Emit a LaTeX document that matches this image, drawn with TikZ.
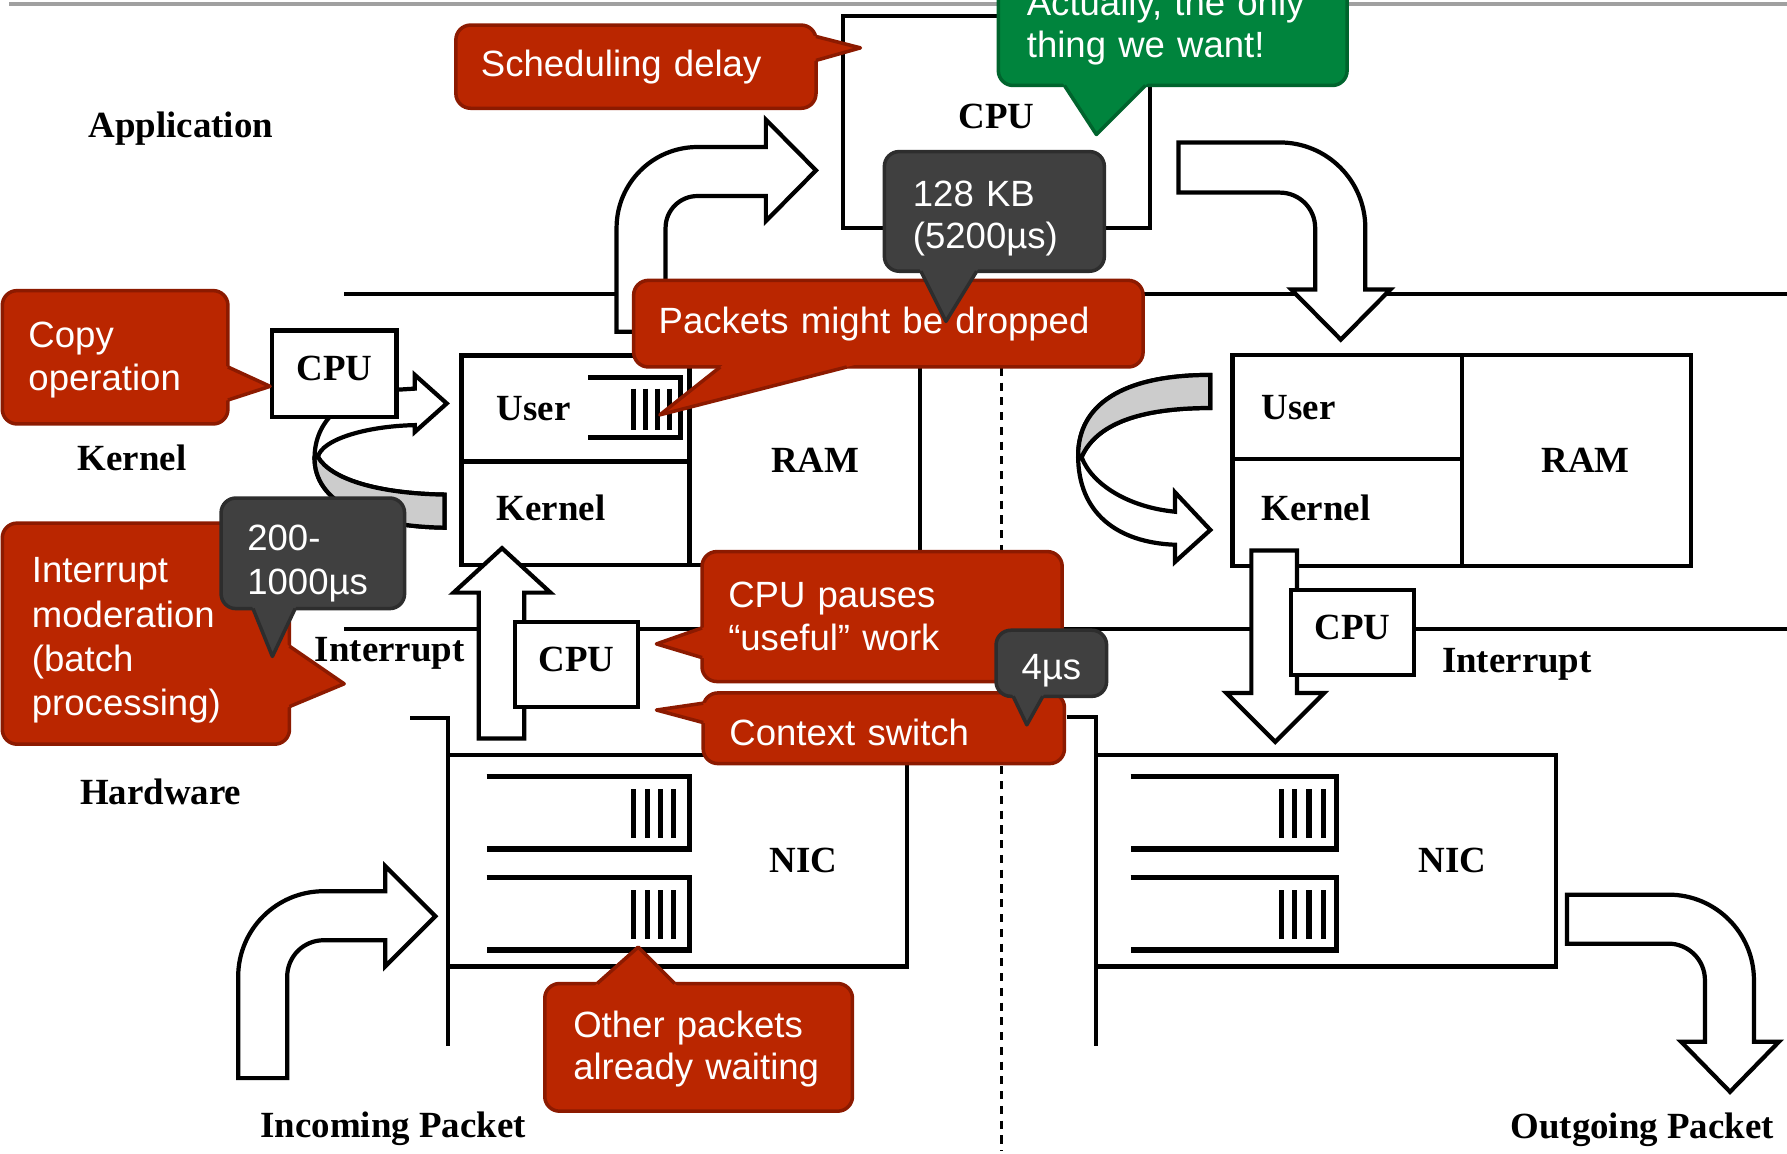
\documentclass[tikz,border=0pt]{standalone}
\usepackage{fontspec}
\setmainfont{Liberation Serif}
\setsansfont{Liberation Sans}
\usetikzlibrary{calc}

\definecolor{calred}{RGB}{186,38,0}
\definecolor{calredline}{RGB}{140,26,0}
\definecolor{calgreen}{RGB}{0,132,61}
\definecolor{calgreenline}{RGB}{0,100,45}
\definecolor{caldark}{RGB}{64,64,64}
\definecolor{caldarkline}{RGB}{45,45,45}
\definecolor{ribbon}{RGB}{204,204,204}
\definecolor{topbar}{RGB}{160,160,160}

\newlength\px
\setlength\px{0.11397mm}

\newcommand\labfont{\fontsize{10.5}{12}\selectfont\bfseries}
\newcommand\callfont{\sffamily\fontsize{10.4}{12.2}\selectfont}
% taller first line, pushes callout text down
\newcommand\firstline[1]{\rule{0pt}{#1}}

% pointer of a callout: fill, line, base, tip, base
\newcommand\callpointer[5]{%
  \fill[#1] ($(#4)!1.15!(#3)$) -- (#4) -- ($(#4)!1.15!(#5)$) -- cycle;
  \draw[#2, line width=1pt, line join=round] (#3) -- (#4) -- (#5);
}

\begin{document}
\begin{tikzpicture}[x=\px, y=-\px, line width=1.2pt,
    lab/.style = {font=\labfont},
    box/.style = {draw, fill=white, font=\labfont, inner sep=0pt,
        outer sep=0pt, anchor=north west},
    cpu/.style = {box, text depth=3pt},
    queue/.style = {line width=1.5pt},
    blockarrow/.style = {draw, fill=white},
    callout/.style = {rectangle, rounded corners=4.2pt, line width=1pt,
        text=white, font=\callfont, align=left, anchor=north west,
        inner ysep=0pt, outer sep=0pt},
    redcall/.style = {callout, fill=calred, draw=calredline},
    greencall/.style = {callout, fill=calgreen, draw=calgreenline},
    darkcall/.style = {callout, fill=caldark, draw=caldarkline}]

\useasboundingbox (0,0) rectangle (1568,1012);
\clip (0,0) rectangle (1568,1012);

% Top rule
\draw[topbar, line width=1.3pt] (8,3.5) -- (1568,3.5);

% Layer boundaries
\draw (302,258) -- (1568,258);
\draw (302,552) -- (1568,552);
\draw (360,630) -- (393,630) -- (393,918);
\draw (936,629) -- (962,629) -- (962,918);
\draw[line width=0.9pt, dash pattern=on 2.3pt off 1.9pt] (879,258) -- (879,1010);

% Application CPU
\node[cpu, minimum width=269\px, minimum height=186\px] (appcpu) at (740,14) {CPU};

% Memory, receive side
\node[box, minimum height=93\px, text width=138\px, inner xsep=31\px, align=left] (userL) at (405,312) {User};
\node[box, text depth=3pt, minimum height=91\px, text width=138\px, inner xsep=31\px, align=left] (kernelL) at (userL.south west) {Kernel};
\node[box, minimum height=184\px, text width=96\px, inner xsep=53\px, align=right] (ramL) at (userL.north east) {RAM};
\draw[queue] (516,331) -- (597,331) -- (597,384) -- (516,384);
\foreach \x in {556,566.5,577,587.5}
    \draw[queue] (\x,341) -- (\x,377);

% Memory, send side
\node[box, minimum height=91.5\px, text width=150.5\px, inner xsep=25.5\px, align=left] (userR) at (1081.5,311.5) {User};
\node[box, text depth=3pt, minimum height=93.5\px, text width=150.5\px, inner xsep=25.5\px, align=left] (kernelR) at (userR.south west) {Kernel};
\node[box, minimum height=185\px, text width=93\px, inner xsep=54\px, align=right] (ramR) at (userR.north east) {RAM};

% NICs
\node[box, minimum height=185.5\px, text width=281\px, inner xsep=61\px, align=right] (nicL) at (393,662.5) {NIC};
\node[box, minimum height=185.5\px, text width=281\px, inner xsep=61\px, align=right] (nicR) at (962,662.5) {NIC};
\foreach \y in {681.5,770} {
    \draw[queue] (427,\y) -- (605,\y) -- (605,\y+63.5) -- (427,\y+63.5);
    \foreach \x in {556,568,579.5,591}
        \draw[queue] (\x,\y+11) -- (\x,\y+54);
    \draw[queue] (992,\y) -- (1173,\y) -- (1173,\y+63.5) -- (992,\y+63.5);
    \foreach \x in {1124.5,1136,1148.5,1161}
        \draw[queue] (\x,\y+11) -- (\x,\y+54);
}

% Block arrows
\draw[blockarrow] (541,291) -- (541,200) arc[start angle=180, end angle=270, radius=71]
    -- (672,129) -- (672,105) -- (716,149.5) -- (672,194) -- (672,172) -- (612,172)
    arc[start angle=270, end angle=180, radius=28] -- (584,291) -- cycle;
\draw[blockarrow] (1034,125) -- (1123,125) arc[start angle=270, end angle=360, radius=75]
    -- (1198,254) -- (1220,254) -- (1176.5,298) -- (1133,254) -- (1154,254) -- (1154,200)
    arc[start angle=0, end angle=-90, radius=31] -- (1034,169) -- cycle;
\draw[blockarrow] (209,946) -- (209,857) arc[start angle=180, end angle=270, radius=75]
    -- (338,782) -- (338,760) -- (382,804) -- (338,848) -- (338,825) -- (284,825)
    arc[start angle=270, end angle=180, radius=32] -- (252,946) -- cycle;
\draw[blockarrow] (1375,785) -- (1464,785) arc[start angle=270, end angle=360, radius=75]
    -- (1539,914) -- (1561,914) -- (1518,958) -- (1475,914) -- (1496,914) -- (1496,860)
    arc[start angle=0, end angle=-90, radius=32] -- (1375,828) -- cycle;
\draw[blockarrow] (420,648) -- (420,520) -- (398,520) -- (440.5,481) -- (483,520)
    -- (460,520) -- (460,648) -- cycle;
\draw[blockarrow] (1098,483) -- (1138,483) -- (1138,608) -- (1162,608) -- (1119,651)
    -- (1076,608) -- (1098,608) -- cycle;

% Copy ribbons
\draw[blockarrow] (390,463) .. controls (320,462) and (276,440) .. (276,402)
    .. controls (276,370) and (300,345) .. (348,342) -- (364,341) -- (364,329)
    -- (392,354) -- (364,379) -- (364,373) .. controls (320,374) and (282,386) .. (279,401)
    .. controls (290,420) and (330,433) .. (390,434) -- cycle;
\draw[blockarrow, fill=ribbon] (279,401) .. controls (290,420) and (330,433) .. (390,434)
    -- (390,463) .. controls (320,462) and (276,440) .. (276,402) -- cycle;
\draw[blockarrow] (1062,329) .. controls (985,329) and (946,355) .. (946,400)
    .. controls (946,450) and (980,476) .. (1031,478) -- (1031,493) -- (1062,465)
    -- (1031,432) -- (1031,449) .. controls (990,445) and (958,425) .. (949,401)
    .. controls (962,372) and (1000,358) .. (1062,358) -- cycle;
\draw[blockarrow, fill=ribbon] (1062,329) .. controls (985,329) and (946,355) .. (946,400)
    -- (949,401) .. controls (962,372) and (1000,358) .. (1062,358) -- cycle;

% CPUs
\node[cpu, minimum width=109\px, minimum height=76\px] (kcpu) at (239,290) {CPU};
\node[cpu, minimum width=108\px, minimum height=75\px] (icpuL) at (452,545.5) {CPU};
\node[cpu, minimum width=107.5\px, minimum height=74\px] (icpuR) at (1133,518) {CPU};

% Layer labels
\node[lab] (application) at (158.6,112.6) {Application};
\node[lab] (kernel) at (116,402) {Kernel};
\node[lab] (hardware) at (141,694.6) {Hardware};
\node[lab] (intL) at (342,573) {Interrupt};
\node[lab] (intR) at (1331,583) {Interrupt};
\node[lab] (incoming) at (345,990) {Incoming Packet};
\node[lab] (outgoing) at (1441,991.5) {Outgoing Packet};

% Callouts
\node[redcall, text width=272\px, inner xsep=22\px, minimum height=73\px] (sched) at (400,22) {Scheduling delay};
\callpointer{calred}{calredline}{716,32}{755,42}{716,53}

\node[greencall, text width=256\px, inner xsep=25\px, minimum height=105\px,
    font=\sffamily\fontsize{10.4}{12}\selectfont] (wanted) at (876,-30) {\firstline{8.5pt}Actually, the only\\thing we want!};
\callpointer{calgreen}{calgreenline}{934,75}{962,118}{1005,75}

\node[redcall, text width=403\px, inner xsep=22\px, minimum height=76\px] (dropped) at (556,246) {Packets might be dropped};
\callpointer{calred}{calredline}{632,322}{579,364}{743,322}

\node[darkcall, text width=143\px, inner xsep=25\px, minimum height=105\px] (buffer) at (776,133) {\firstline{11.3pt}128 KB\\(5200µs)};
\callpointer{caldark}{caldarkline}{808,238}{830,282}{857,238}

\node[redcall, text width=152\px, inner xsep=23\px, minimum height=117\px] (copy) at (2,255) {\firstline{9pt}Copy\\operation};
\callpointer{calred}{calredline}{200,322}{237,339}{200,351}

\node[redcall, text width=200\px, inner xsep=26\px, minimum height=194\px,
    font=\sffamily\fontsize{10.4}{12.6}\selectfont] (moderation) at (2,459) {\firstline{11.1pt}Interrupt\\moderation\\(batch\\processing)};
\callpointer{calred}{calredline}{254,567}{302,600}{254,620}

\node[darkcall, text width=115\px, inner xsep=23\px, minimum height=97\px,
    font=\sffamily\fontsize{10.4}{12.5}\selectfont] (modtime) at (194,437) {\firstline{13.2pt}200-\\1000µs};
\callpointer{caldark}{caldarkline}{222,534}{239,576}{259,534}

\node[redcall, text width=270\px, inner xsep=23\px, minimum height=114\px] (pauses) at (616,484) {CPU pauses\\“useful” work};
\callpointer{calred}{calredline}{616,551}{576,565}{616,577}

\node[redcall, text width=271\px, inner xsep=23\px, minimum height=62\px] (ctxsw) at (617,608) {\firstline{10pt}Context switch};
\callpointer{calred}{calredline}{617,617}{576,623}{617,634}

\node[darkcall, text width=77\px, inner xsep=10\px, minimum height=58\px, align=center] (ctxtime) at (874,553) {\firstline{11.3pt}4µs};
\callpointer{caldark}{caldarkline}{889,611}{901,636}{915,611}

\node[redcall, text width=220\px, inner xsep=25\px, minimum height=112\px] (waiting) at (478,863) {\firstline{8.5pt}Other packets\\already waiting};
\callpointer{calred}{calredline}{524,863}{560,831}{592,863}

\end{tikzpicture}
\end{document}
